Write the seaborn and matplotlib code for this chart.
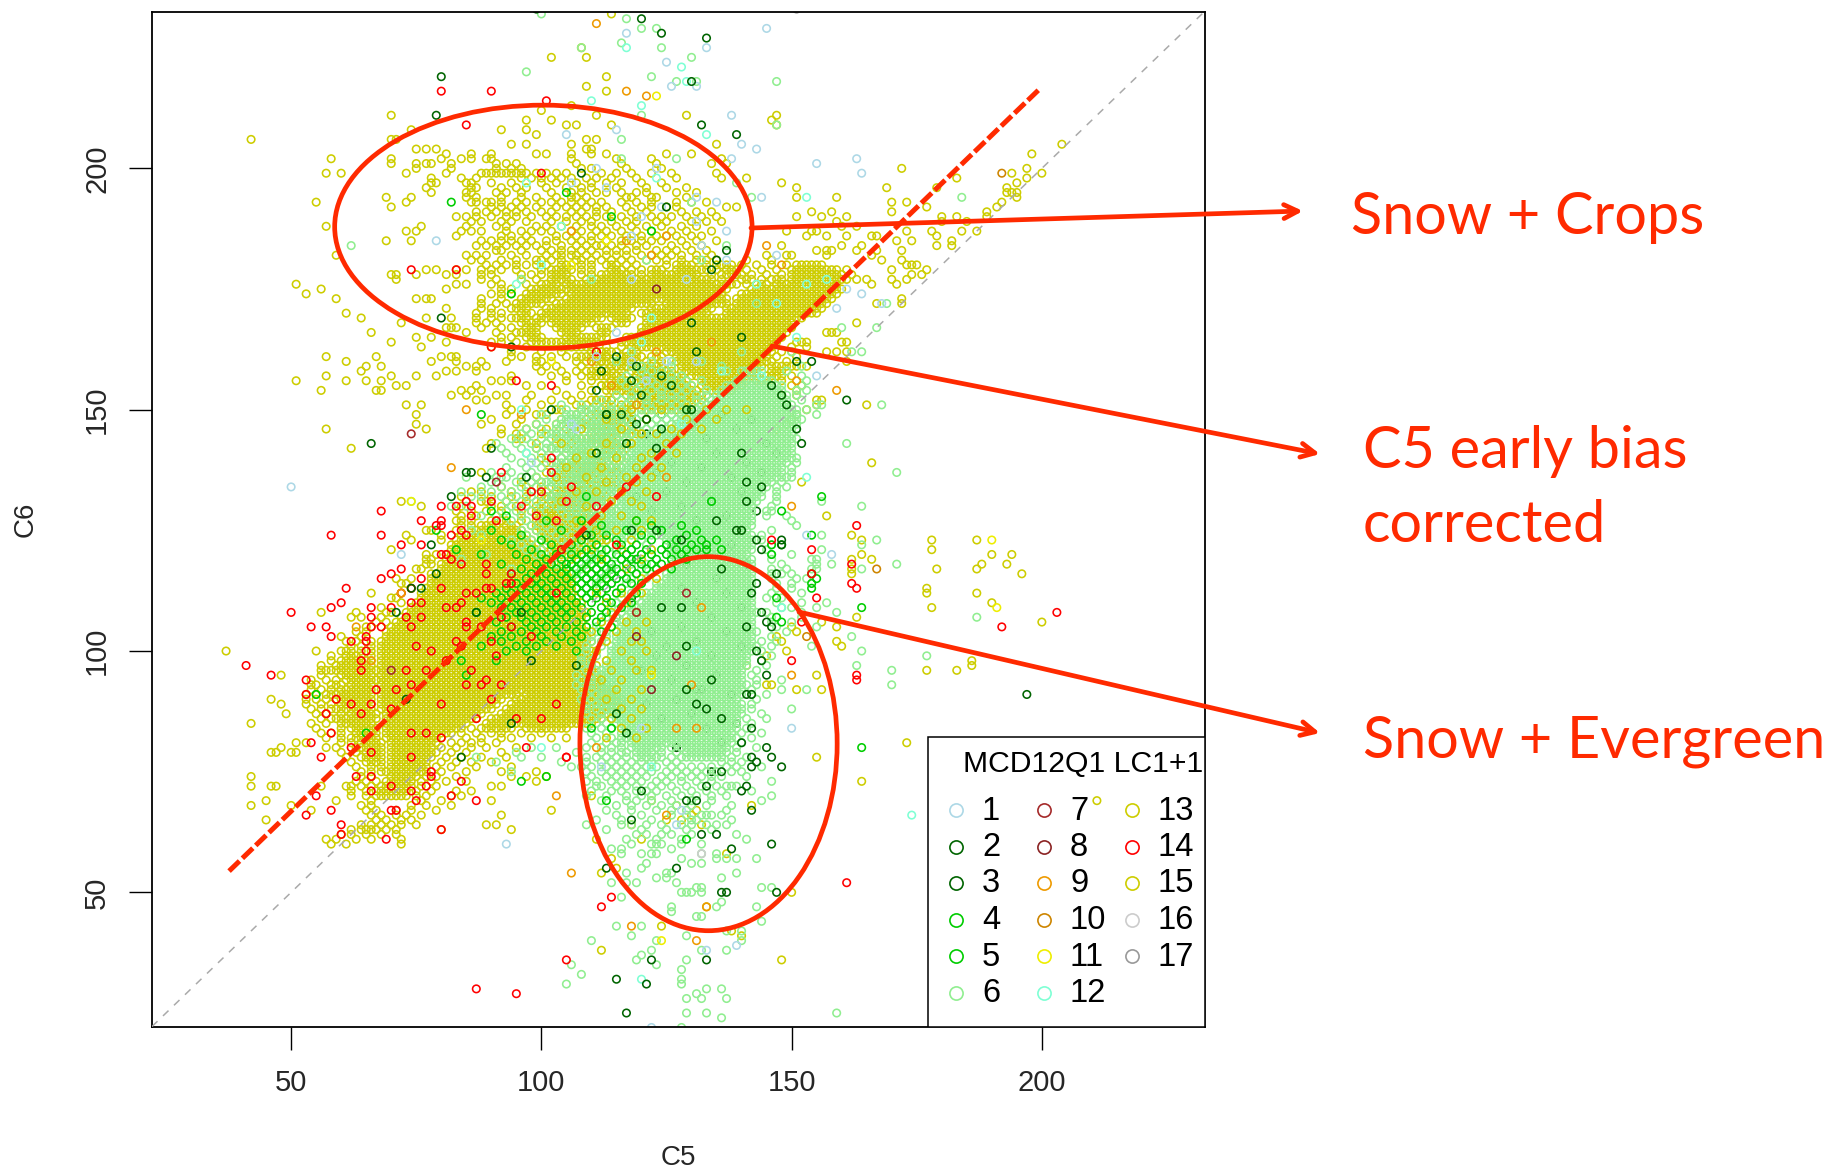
import pandas as pd
import seaborn as sns
from matplotlib import pyplot as plt
from matplotlib.lines import Line2D
from matplotlib.markers import MarkerStyle
from matplotlib.patches import Ellipse, Rectangle

# C5 / C6 values are whole days, so the solid blocks are noted as (c6, first c5, last c5)
lc13_runs = [
    (180, 104, 106), (180, 113, 115), (180, 127, 130), (180, 136, 138), (180, 151, 156),
    (179, 103, 106), (179, 114, 116), (179, 122, 124), (179, 127, 133), (179, 137, 139), (179, 150, 159),
    (178, 102, 105), (178, 112, 118), (178, 122, 131), (178, 136, 140), (178, 150, 160),
    (177, 102, 106), (177, 111, 134), (177, 140, 142), (177, 146, 148), (177, 150, 161),
    (176, 100, 103), (176, 105, 110), (176, 111, 138), (176, 143, 145), (176, 147, 159),
    (175, 98, 137), (175, 142, 160), (174, 97, 104), (174, 106, 136), (174, 140, 159),
    (173, 96, 102), (173, 105, 137), (173, 139, 158), (172, 95, 100), (172, 103, 122), (172, 125, 137), (172, 139, 157),
    (171, 94, 97), (171, 101, 118), (171, 122, 134), (171, 137, 156), (170, 96, 98), (170, 100, 117), (170, 120, 133), (170, 137, 155),
    (169, 95, 97), (169, 99, 112), (169, 114, 118), (169, 121, 152), (168, 96, 100), (168, 102, 110), (168, 115, 117), (168, 121, 150),
    (167, 97, 99), (167, 103, 108), (167, 111, 114), (167, 120, 150), (166, 96, 99), (166, 104, 107), (166, 112, 113), (166, 120, 149),
    (165, 97, 100), (165, 105, 113), (165, 117, 148), (164, 98, 111), (164, 116, 147), (164, 151, 153),
    (163, 104, 110), (163, 118, 146), (162, 110, 114), (162, 125, 146), (161, 108, 113), (161, 116, 120), (161, 122, 124), (161, 127, 145),
    (160, 111, 118), (160, 128, 145), (159, 114, 124), (159, 128, 144), (159, 146, 150), (158, 110, 114), (158, 118, 126), (158, 128, 143), (158, 146, 148),
    (157, 110, 116), (157, 120, 128), (157, 130, 143), (157, 145, 148), (156, 115, 129), (156, 132, 141), (156, 143, 146),
    (155, 112, 118), (155, 121, 130), (155, 132, 140), (154, 114, 131), (154, 134, 138), (153, 118, 133), (152, 110, 114), (152, 120, 132),
    (151, 118, 130), (150, 112, 118), (150, 120, 130), (149, 110, 117), (148, 113, 118), (147, 108, 116), (146, 110, 118), (145, 112, 120),
    (144, 107, 115), (143, 110, 118), (142, 112, 117), (141, 107, 114), (140, 109, 117), (139, 105, 112), (138, 104, 116), (137, 107, 115),
    (136, 103, 109), (135, 105, 115), (134, 102, 114), (133, 103, 110), (132, 100, 113), (131, 102, 112), (130, 101, 108), (129, 98, 110), (128, 99, 112),
    (127, 90, 93), (127, 99, 110), (126, 88, 91), (126, 93, 95), (126, 98, 112), (125, 86, 89), (125, 91, 96), (125, 99, 112),
    (124, 84, 97), (124, 100, 110), (123, 83, 98), (123, 100, 112), (122, 82, 99), (122, 101, 107), (121, 82, 100), (121, 102, 108),
    (120, 81, 101), (120, 103, 108), (119, 81, 102), (118, 80, 104), (117, 80, 105), (116, 79, 106), (115, 78, 106), (114, 78, 106),
    (113, 77, 107), (112, 76, 106), (111, 76, 107), (110, 75, 108), (109, 74, 107), (108, 73, 108), (107, 72, 109), (106, 71, 108),
    (105, 70, 109), (104, 69, 109), (103, 69, 109), (102, 68, 110), (101, 68, 109), (100, 60, 62), (100, 68, 110), (99, 61, 64), (99, 68, 110),
    (98, 60, 66), (98, 68, 110), (97, 59, 66), (97, 68, 111), (96, 58, 66), (96, 67, 110), (95, 60, 66), (95, 68, 112), (94, 61, 67), (94, 68, 112),
    (93, 58, 60), (93, 62, 66), (93, 68, 113), (92, 60, 66), (92, 68, 114), (91, 57, 66), (91, 68, 95), (91, 97, 115), (90, 59, 66), (90, 68, 92), (90, 95, 116),
    (89, 60, 66), (89, 68, 91), (89, 94, 116), (88, 58, 66), (88, 68, 90), (88, 93, 116), (87, 62, 67), (87, 69, 88), (87, 92, 113), (86, 59, 67), (86, 69, 87), (86, 90, 112),
    (85, 60, 66), (85, 69, 85), (85, 89, 110), (84, 62, 67), (84, 69, 83), (84, 88, 94), (84, 98, 105), (83, 63, 67), (83, 69, 82), (82, 62, 67), (82, 69, 80),
    (81, 64, 68), (81, 70, 79), (80, 63, 68), (80, 70, 78), (79, 65, 68), (79, 70, 78), (78, 64, 68), (78, 70, 77), (77, 66, 68), (77, 70, 76), (76, 70, 76), (75, 70, 76), (74, 70, 75), (73, 69, 74), (72, 68, 74),
    (71, 68, 73), (70, 67, 73),
]
lc6_runs = [
    (158, 140, 144), (156, 139, 146), (155, 138, 148), (154, 136, 148), (153, 135, 149), (152, 134, 149), (151, 132, 150), (150, 108, 112), (150, 131, 150),
    (149, 105, 107), (149, 129, 151), (148, 104, 108), (148, 110, 114), (148, 127, 151), (147, 103, 112), (147, 126, 150), (146, 106, 115), (146, 124, 150),
    (145, 101, 107), (145, 110, 117), (145, 122, 150), (144, 104, 112), (144, 120, 150), (143, 107, 116), (143, 119, 149), (142, 101, 110), (142, 118, 149),
    (141, 105, 116), (141, 118, 149), (140, 106, 116), (140, 117, 150), (139, 103, 110), (139, 117, 149), (138, 108, 116), (138, 117, 148), (137, 102, 110), (137, 116, 148),
    (136, 106, 116), (136, 116, 148), (135, 100, 109), (135, 116, 146), (134, 110, 116), (134, 116, 145), (133, 106, 115), (133, 116, 144), (132, 101, 112), (132, 116, 144),
    (131, 108, 115), (131, 116, 143), (130, 103, 112), (130, 116, 142), (129, 112, 116), (129, 117, 142), (128, 105, 116), (128, 117, 142), (127, 110, 118), (127, 119, 142),
    (126, 112, 120), (126, 121, 142), (125, 108, 114), (125, 122, 141), (124, 112, 123), (124, 124, 142), (123, 125, 142), (122, 125, 142), (121, 126, 142), (120, 126, 141), (119, 127, 142), (118, 126, 142),
    (117, 126, 142), (116, 125, 142), (115, 125, 142), (114, 124, 142), (113, 123, 142), (112, 122, 142), (111, 121, 142), (110, 120, 142),
    (109, 118, 142), (108, 118, 143), (107, 117, 142), (106, 116, 142), (105, 116, 142), (104, 115, 142), (103, 115, 142), (102, 115, 142),
    (101, 114, 143), (100, 114, 142), (99, 114, 141), (98, 113, 141), (97, 113, 141), (96, 112, 140), (95, 112, 140), (94, 112, 140),
    (93, 112, 141), (92, 112, 140), (91, 112, 140), (90, 112, 139), (89, 112, 140), (88, 113, 140), (87, 114, 140), (86, 114, 139),
    (85, 115, 139), (84, 116, 139), (83, 116, 138), (82, 117, 125), (82, 128, 138), (81, 118, 124), (81, 127, 137), (80, 118, 123), (80, 128, 136),
    (79, 119, 122), (79, 129, 136), (78, 119, 123), (78, 129, 135),
]

# single rings read one by one: (c6, [c5, ...])
lc13_rows = [
    (232, [114]), (225, [108]), (223, [102, 109]), (219, [113]), (217, [109]), (216, [113]), (213, [106]), (212, [100]),
    (211, [70, 111, 129, 147]), (210, [97, 102, 146]), (209, [105, 107, 114, 147]), (208, [74, 92, 97]), (207, [99]), (206, [42, 70, 71, 109, 111]),
    (205, [94, 97, 106, 135, 204]), (204, [75, 77, 79, 109, 110]), (203, [81, 86, 90, 99, 101, 106, 110, 113, 125, 130, 198]),
    (202, [58, 70, 80, 84, 86, 89, 90, 106, 115, 122, 136]), (201, [70, 75, 77, 78, 82, 91, 93, 95, 107, 116, 123, 134, 137]),
    (200, [75, 82, 91, 94, 96, 108, 110, 117, 124, 172, 197]), (199, [57, 60, 73, 81, 88, 89, 90, 91, 92, 93, 94, 95, 96, 97, 99, 101, 103, 105, 112, 115, 118, 122, 126, 135, 194, 200]),
    (198, [78, 84, 87, 96, 98, 100, 102, 104, 106, 109, 111, 114, 119, 127, 136, 141, 183, 197]),
    (197, [78, 79, 85, 86, 90, 94, 100, 103, 107, 110, 113, 116, 120, 124, 148, 195]),
    (196, [77, 86, 87, 92, 95, 97, 101, 105, 108, 110, 115, 121, 125, 129, 151, 169, 179, 193]),
    (195, [78, 85, 86, 91, 93, 96, 102, 106, 108, 111, 113, 116, 119, 121, 127, 131, 193, 194, 195]),
    (194, [69, 74, 85, 87, 92, 96, 99, 103, 106, 107, 109, 117, 118, 122, 123, 129, 151, 159, 195]),
    (193, [55, 73, 86, 87, 89, 90, 92, 95, 97, 100, 102, 104, 106, 108, 110, 112, 116, 119, 122, 127, 130, 133, 170, 173, 192]),
    (192, [70, 90, 92, 94, 96, 99, 103, 105, 107, 109, 111, 113, 117, 120, 122, 125, 127, 137, 139, 177, 191]),
    (191, [87, 89, 91, 93, 95, 97, 100, 102, 106, 108, 111, 114, 118, 121, 128, 131, 134, 154, 158, 170, 189]),
    (190, [83, 85, 87, 90, 93, 95, 98, 101, 103, 105, 107, 109, 111, 113, 116, 119, 122, 124, 126, 129, 132, 135, 151, 156, 161, 180, 183, 189]),
    (189, [86, 88, 92, 94, 97, 102, 105, 108, 110, 114, 117, 119, 123, 125, 130, 133, 136, 159, 180, 185]),
    (188, [57, 76, 85, 91, 93, 99, 101, 104, 107, 110, 112, 115, 118, 121, 124, 128, 131, 160, 163]),
    (187, [73, 75, 84, 86, 88, 93, 96, 98, 100, 102, 106, 108, 111, 113, 116, 119, 122, 126, 129, 134, 149, 154, 155, 173, 178, 184, 187]),
    (186, [83, 92, 94, 97, 103, 105, 107, 110, 112, 114, 117, 120, 123, 125, 127, 130, 132, 153, 157, 161, 166, 167, 179]),
    (185, [69, 74, 88, 90, 92, 94, 96, 98, 101, 103, 106, 108, 110, 113, 116, 118, 120, 122, 124, 128, 131, 135, 171, 174, 182]),
    (184, [87, 89, 91, 93, 95, 97, 99, 101, 104, 107, 109, 111, 112, 114, 116, 119, 121, 126, 129, 132, 148, 160, 164, 179, 182]),
    (183, [91, 92, 96, 100, 102, 104, 106, 108, 110, 113, 115, 117, 119, 123, 125, 127, 130, 133, 155, 157, 158, 163, 167, 172]),
    (182, [59, 85, 87, 89, 94, 97, 101, 103, 104, 106, 107, 109, 111, 113, 115, 117, 120, 122, 124, 126, 128, 131, 134, 145, 149, 150, 157, 166]),
    (181, [86, 88, 92, 95, 99, 100, 102, 104, 107, 108, 110, 112, 114, 116, 118, 121, 123, 125, 128, 131, 133, 135, 141, 146, 168, 172]),
    (180, [89, 91, 93, 95, 97, 99, 101, 108, 110, 117, 119, 125, 133, 135, 140, 143, 146, 149, 173, 174, 175]),
    (179, [77, 79, 83, 85, 88, 90, 92, 95, 100, 102, 108, 110, 118, 120, 135, 141, 144, 147, 161, 170, 177]),
    (178, [70, 71, 75, 81, 83, 88, 90, 96, 98, 100, 108, 110, 120, 134, 142, 145, 148, 162, 174, 176]),
    (177, [71, 88, 91, 96, 99, 109, 136, 144, 163, 165, 170, 173]), (176, [51, 83, 85, 90, 92, 97, 139, 141, 166, 171]), (175, [56, 81, 92, 94]),
    (174, [53, 90, 92, 94]), (173, [59, 75, 77, 78, 88, 92, 172]), (172, [88, 91, 93, 167, 172]), (171, [81, 88, 90]), (170, [61, 87, 90, 92]),
    (169, [64, 77, 82, 87, 90, 92, 94]), (168, [72, 87, 89, 91, 163]), (167, [81, 82, 83, 88, 92, 94]), (166, [66, 85, 91, 95, 157, 158, 159]),
    (165, [75, 78, 92, 94]), (164, [70, 81, 90, 92, 95, 160, 161]), (163, [76, 90, 94, 97, 113, 116, 150, 153]), (162, [94, 100, 104, 112, 115, 117, 119, 148, 150, 157, 159, 161]),
    (161, [57, 67, 80, 82, 83, 94, 96, 99, 102, 105, 107, 111, 113, 117, 147, 151]), (160, [61, 78, 83, 88, 93, 99, 100, 107, 109, 112, 116, 119, 121, 124, 127, 146, 149, 161]),
    (159, [65, 68, 85, 87, 89, 99, 101, 103, 108, 111, 118, 123, 126, 151, 153]), (158, [64, 81, 83, 87, 100, 104, 107, 109, 113, 116, 121, 125]),
    (157, [57, 70, 75, 79, 94, 102, 105, 108, 113, 119, 122, 126, 146, 150]), (156, [51, 61, 65, 68, 90, 92, 94, 105, 110, 114, 120, 124, 127, 148]),
    (155, [71, 73, 87, 97, 100, 108, 112, 116, 118, 122, 150, 152]), (154, [56, 67, 68, 84, 86, 88, 103, 110, 113, 119, 121, 125, 151]),
    (153, [82, 85, 91, 93, 98, 105, 108, 115, 117, 148, 151]), (152, [87, 89, 97, 102, 106, 111, 114, 118, 155, 156]), (151, [73, 76, 93, 100, 107, 109, 113, 116, 155, 165]),
    (150, [94, 97, 103, 104, 108, 110, 153]), (149, [75, 93, 99, 101, 107, 151]), (148, [90, 96, 104, 109, 150]), (147, [75, 88, 95, 99, 103, 149]),
    (146, [57, 77, 92, 97, 101, 105, 147]), (145, [92, 95, 100, 103, 106, 110]), (144, [95, 96, 103]), (143, [90, 99, 103, 106]),
    (142, [62, 89, 99, 102, 105, 108]), (140, [100, 104, 107]), (139, [101, 103, 166]), (137, [88, 101, 105]), (136, [99, 110, 112]), (135, [96, 100, 152]),
    (134, [92, 97, 100]), (133, [86, 88, 94, 98, 101]), (132, [84, 90, 94, 97]), (131, [72, 88, 89, 93, 97, 100]),
    (130, [76, 84, 90, 92, 95, 99, 110]), (129, [83, 86, 89, 92, 96, 114]), (128, [84, 87, 96, 157]), (127, [83, 84, 86, 96, 112]),
    (126, [84, 86, 114]), (125, [77, 78, 83, 113]), (124, [73, 80, 111, 162]), (123, [74, 80, 113, 164, 187, 178]), (122, [110, 115]),
    (121, [70, 112, 178, 110]), (120, [77, 79, 164, 190, 194]), (119, [77, 78, 162, 166]), (118, [77, 78, 188, 193]), (117, [75, 76, 179, 187, 162]), (116, [78, 196, 162]), (115, [71, 74]),
    (114, [72, 73]), (113, [177, 74]), (112, [66, 177, 187, 72]), (111, [70, 71]), (110, [72, 190]), (109, [178, 68]), (108, [56, 63, 69, 70]), (107, [62, 64, 163, 68]), (106, [200, 156, 67, 69]),
    (105, [150, 159, 65, 66]), (104, [151, 63, 65]), (103, [60, 147, 64]), (102, [148, 159, 61, 63, 66]), (101, [160, 62, 64, 66]), (100, [37, 55, 149, 64, 66]),
    (99, [58, 66, 145]), (98, [58, 186]), (97, [56, 141, 186]), (96, [56, 57, 177, 183]), (95, [48, 56, 155]),
    (94, [54, 57, 59]), (93, [54, 55, 145, 146]), (92, [54, 56, 58, 151, 156]), (91, [53, 55]),
    (90, [46, 53, 55, 57]), (89, [48, 53, 56, 58]), (88, [54, 56]), (87, [49, 55, 57, 60]), (86, [56, 58]),
    (85, [42, 54, 57]), (84, [55, 60, 84, 86, 97]), (83, [56, 58, 60, 84, 87, 90, 92, 96, 100]), (82, [57, 60, 85, 88, 92, 94, 98, 102, 105]),
    (81, [51, 53, 60, 62, 82, 84, 86, 88, 91, 173]), (80, [48, 57, 59, 80, 83, 86, 89, 95]), (79, [46, 47, 50, 51, 60, 63, 79, 82, 85, 92]),
    (78, [61, 78, 81, 84, 88, 155, 93]), (77, [62, 65, 77, 80, 83, 86, 90]), (76, [63, 66, 68, 77, 79, 82, 87, 94]), (75, [64, 66, 68, 69, 77, 80, 85, 92, 99]),
    (74, [42, 64, 66, 77, 79, 83, 94, 97, 101]), (73, [63, 65, 67, 76, 78, 81, 85, 99, 164]), (72, [42, 46, 47, 56, 61, 62, 64, 66, 76, 79, 90, 92]), (71, [62, 65, 67, 75, 78, 83, 86]),
    (70, [62, 65, 75, 77, 82, 84, 110]), (69, [45, 59, 66, 76, 80, 90, 122]), (68, [42, 50, 64, 66, 74, 77, 82, 127, 142]), (67, [54, 65, 67, 71, 74, 79, 102, 131]),
    (66, [66, 68, 71, 73, 76, 92, 130]), (65, [45, 67, 69, 72, 74, 125, 128]), (64, [64, 66, 68, 70, 72, 75, 89, 91, 118, 132]), (63, [62, 64, 65, 66, 67, 69, 71, 80, 94]),
    (62, [60, 62, 65, 68, 71]), (61, [57, 59, 63, 66, 72, 111, 120]), (60, [58, 61, 72]), (58, [137]), (57, [114]), (55, [115]), (54, [112]), (50, [150]), (47, [133]), (43, [124]), (42, [138]),
    (41, [140]), (38, [112]), (36, [148]),
]
# class 15 shares the colour of 13 and lies over the light green where the two clouds meet
lc15_rows = [
    (150, [133, 137, 141, 118, 124]), (148, [121, 129, 135, 113]), (146, [116, 126, 132, 108]), (145, [120, 123, 128]), (143, [113, 118, 125, 104]), (141, [110, 122, 127]),
    (140, [107, 115, 120]), (138, [112, 119, 124, 105]), (136, [103, 109, 117, 122]), (135, [113, 119]), (133, [107, 111, 116, 121]), (131, [104, 114, 118]), (130, [109, 120]),
    (128, [102, 112, 116]), (127, [107, 119, 122]), (125, [111, 115, 120]), (123, [108, 113, 118]), (121, [103, 110, 116, 122]), (119, [106, 112, 120]), (117, [109, 117]),
    (115, [113, 120, 123]), (112, [111, 116, 120]), (110, [113, 117]), (108, [109, 114, 119]), (106, [112, 117, 121]), (104, [110, 115, 119]), (102, [113, 118, 120]), (100, [111, 116, 121]),
    (98, [113, 118]), (96, [114, 119, 122]), (94, [112, 116]), (92, [115, 120]), (90, [113, 118]), (88, [116, 120]), (86, [114, 118]), (84, [116, 121]), (82, [113, 119]),
]
lc6_rows = [
    (232, [100]), (231, [117]), (229, [120, 123]), (226, [116]), (225, [108, 124]), (223, [130]), (220, [97]), (219, [122]), (218, [127, 147, 131]), (211, [120]), (209, [147]),
    (206, [116]), (202, [116, 127]), (197, [139]), (194, [184, 142]), (193, [130]), (184, [62, 137]), (181, [121, 132]), (177, [96, 110]), (172, [169, 143]), (167, [160, 167]),
    (162, [162, 164, 118, 140, 150]), (160, [115, 122, 126, 132]), (159, [118, 120, 126, 136, 152]), (158, [120, 122, 124, 137, 149]), (157, [117, 121, 124, 126, 128, 152]),
    (156, [116, 119, 122, 126, 129, 132, 153]), (155, [117, 120, 123, 125, 128, 130, 137, 152]), (154, [119, 122, 124, 127, 129, 133, 151, 153]),
    (153, [115, 118, 121, 124, 126, 128, 131, 133, 151]), (152, [112, 116, 118, 121, 124, 126, 128, 131, 152]), (151, [104, 108, 111, 114, 117, 119, 121, 123, 125, 127, 129, 155, 156, 168]),
    (150, [102, 105, 114, 116, 118, 120, 122, 124, 126, 128, 130, 151, 153]), (149, [100, 108, 110, 112, 114, 116, 118, 120, 122, 124, 126, 128, 155, 151]),
    (148, [101, 116, 117, 119, 121, 123, 125, 150, 152]), (147, [99, 114, 116, 118, 120, 122, 124, 149, 151]),
    (146, [97, 100, 103, 117, 119, 121, 123, 151]), (145, [96, 98, 118, 120]),
    (144, [94, 97, 100, 102, 113, 115, 117, 119, 151]), (143, [91, 95, 98, 101, 103, 105, 117, 150, 161]),
    (142, [92, 96, 99, 112, 114, 116, 150]), (141, [93, 97, 100, 103, 150]), (140, [94, 98, 101, 104, 151]),
    (139, [96, 99, 102, 111, 113, 115, 151]), (138, [93, 97, 100, 103, 106, 150]), (137, [90, 94, 98, 112, 114, 171, 150]),
    (136, [85, 91, 92, 93, 96, 99, 102, 149, 150]), (135, [90, 95, 98, 111, 113, 148]), (134, [88, 92, 96, 99, 102, 105, 108, 147, 149]),
    (133, [84, 90, 94, 97, 100, 103, 147]), (132, [86, 88, 92, 95, 98, 114, 147]), (131, [74, 90, 93, 96, 99, 102, 105, 156, 147]),
    (130, [82, 85, 94, 97, 100, 114, 164, 146]), (129, [93, 95, 98, 101, 104, 107, 110, 146, 145]), (128, [88, 91, 96, 99, 102, 149, 145]),
    (127, [94, 97, 100, 103, 106, 150]), (126, [98, 101, 104, 107, 110, 151]), (125, [86, 96, 99, 102, 105, 116, 119, 146]),
    (124, [88, 97, 100, 103, 106, 109, 156, 144]), (123, [94, 98, 101, 104, 107, 110, 113, 116, 120, 167, 144]), (122, [96, 99, 102, 105, 108, 111, 114, 117, 121, 164, 146]),
    (121, [97, 100, 103, 106, 109, 112, 115, 118, 122, 156, 145]), (120, [89, 99, 102, 105, 108, 111, 114, 117, 120, 150, 146]), (119, [84, 101, 104, 107, 110, 113, 116, 119, 154, 155, 146]),
    (118, [103, 106, 109, 112, 115, 118, 121, 158, 171, 155, 148]), (117, [94, 105, 108, 111, 114, 117, 120, 123, 149, 154, 155, 164, 146]), (116, [107, 110, 113, 116, 119, 122, 148, 150, 146]),
    (115, [109, 112, 115, 118, 121, 151, 153, 146]), (114, [111, 114, 117, 120, 123, 150, 147]), (113, [113, 116, 119, 150, 147]), (112, [115, 118, 121, 146, 152]), (111, [116, 119, 145, 148]),
    (110, [157, 152, 147, 115, 118]), (109, [155, 150, 148, 114, 117]), (108, [159, 152, 145, 114, 116]), (107, [187, 152, 146, 113, 115]), (106, [150, 146, 112, 115]), (105, [155, 147, 111, 114]),
    (104, [149, 143, 111, 113]), (103, [162, 146, 110, 113]), (102, [147, 144, 110, 112]), (101, [154, 146, 109, 112]), (100, [164, 144, 109, 111]), (99, [177, 146, 108, 111]), (98, [144, 108, 110]),
    (97, [163, 145, 108, 110]), (96, [170, 143, 109, 111]), (95, [142, 107, 110]), (94, [148, 143, 108, 110]), (93, [170, 143, 107, 110]), (92, [153, 148, 142, 108, 110]), (91, [145, 142, 109, 111]),
    (90, [143, 108, 110]), (89, [142, 109, 111]), (88, [150, 142, 109, 111]), (87, [144, 109, 112]), (86, [141, 145, 110, 112]), (85, [142, 111, 113]), (84, [141, 109, 112, 114]), (83, [144, 140, 110, 113]),
    (82, [142, 111, 114, 116, 126, 127, 139]), (81, [110, 113, 115, 116, 125, 126, 138, 140]), (80, [98, 103, 109, 112, 114, 116, 124, 126, 137, 139, 143]), (79, [95, 107, 112, 114, 116, 117, 124, 127, 137, 139]),
    (78, [87, 96, 100, 109, 111, 113, 115, 117, 124, 126, 128, 136, 138, 141]), (77, [91, 104, 109, 112, 114, 116, 118, 120, 122, 125, 127, 136, 138, 140]),
    (76, [106, 108, 110, 113, 115, 117, 119, 121, 123, 126, 128, 130, 132, 134, 137, 139, 144]), (75, [94, 109, 112, 114, 116, 118, 120, 122, 125, 127, 129, 131, 133, 135, 138, 140]),
    (74, [110, 113, 115, 117, 119, 121, 124, 126, 128, 130, 132, 134, 136, 141]), (73, [109, 111, 114, 116, 118, 120, 123, 125, 128, 131, 134, 146]),
    (72, [111, 112, 115, 117, 119, 122, 124, 126, 129, 132, 135, 137, 138, 139]), (71, [110, 114, 116, 119, 121, 123, 127, 130, 133, 136, 142]),
    (70, [109, 113, 117, 120, 122, 125, 128, 131, 134, 137, 146]), (69, [112, 117, 119, 122, 126, 130, 134, 144]), (68, [115, 118, 121, 124, 127, 130, 133, 138]),
    (67, [113, 118, 123, 126, 129, 137]), (66, [115, 120, 126, 129, 132, 133, 134, 136]), (65, [111, 116, 122, 130, 131, 138]), (64, [109, 116, 118, 121, 124, 128, 130, 133, 135, 137]),
    (63, [113, 120, 125, 129, 134]), (62, [119, 121, 124, 126, 130, 139]), (61, [117, 123, 128, 141]), (60, [118, 122, 123, 124, 128, 132]), (59, [114, 116, 126]), (58, [116, 120, 122, 123, 132, 135]),
    (57, [128, 135, 137, 139, 143]), (56, [121, 130, 132]), (55, [120]), (54, [117, 125, 126, 139]), (53, [123, 125, 136]), (52, [114, 117, 119, 127]), (51, [131, 132, 144, 146]), (50, [128, 129, 130, 132]),
    (49, [116]), (48, [136]), (47, [126, 135, 143]), (46, [126]), (45, [131, 132]), (44, [144]), (43, [115, 120]), (42, [137, 140]), (41, [118, 129]), (40, [110, 123, 140]), (38, [122, 132, 137]),
    (37, [120]), (36, [119, 129]), (35, [106, 123]), (34, [128]), (33, [108]), (32, [128]), (31, [105, 128]), (30, [133, 136]), (29, [131]), (28, [129, 132, 137]), (25, [129, 133, 159]), (24, [136]), (22, [128]),
]
lc4_rows = [
    (132, [109, 156]), (131, [134]), (129, [90, 148]), (128, [93]), (127, [101, 108, 119]), (126, [112, 122, 128]), (125, [79, 90, 104, 117, 124, 131]), (124, [96, 110, 113, 120, 129, 154]),
    (123, [92, 100, 108, 115, 122, 127, 132, 135]), (122, [94, 102, 106, 111, 116, 119, 125, 130, 133, 146, 148]), (121, [83, 98, 104, 109, 113, 118, 121, 124, 127, 129, 131, 133, 136]),
    (120, [88, 95, 100, 103, 106, 108, 110, 112, 115, 117, 120, 122, 125, 128, 146]), (119, [97, 101, 104, 107, 109, 111, 113, 116, 118, 119, 123, 126, 129]), (118, [92, 99, 102, 105, 106, 108, 110, 112, 114, 117, 120, 122, 124]),
    (117, [96, 100, 103, 105, 107, 109, 111, 113, 115, 118, 121, 123, 126]), (116, [94, 98, 101, 104, 106, 108, 110, 112, 114, 116, 119, 154]), (115, [97, 99, 102, 105, 107, 109, 111, 113, 115, 117, 155]),
    (114, [95, 98, 100, 103, 106, 108, 110, 112, 114, 118, 120, 154]), (113, [93, 96, 99, 101, 104, 107, 109, 111, 113, 116, 154]), (112, [91, 94, 97, 100, 102, 105, 108, 110, 112, 115, 119]),
    (111, [88, 92, 95, 98, 101, 103, 106, 109, 111, 113, 147]), (110, [90, 93, 96, 99, 102, 104, 107, 110, 114, 118]), (109, [92, 94, 97, 100, 103, 105, 108, 112, 116, 164]), (108, [87, 95, 98, 101, 104, 106, 110, 113]),
    (107, [93, 96, 99, 102, 105, 109, 112, 147]), (106, [91, 97, 100, 103, 107, 111, 148]), (105, [94, 98, 101, 105, 109, 114]), (104, [92, 96, 99, 103, 107, 112]), (103, [90, 94, 100, 104, 108]), (102, [92, 97, 101, 106]),
    (101, [88, 95, 99, 103]), (100, [93, 97, 107]), (98, [84, 91]), (95, [85]), (91, [55]), (84, [110, 114]), (83, [65]), (80, [164]), (74, [101]), (73, [96]), (69, [113]), (61, [129]), (149, [88]),
    (193, [82]), (195, [105]), (190, [114]), (187, [122]), (174, [94]),
]
lc14_points = [
    (41, 97), (46, 95), (53, 94), (53, 91), (50, 108), (58, 124), (68, 129), (68, 124), (61, 113), (60, 110), (58, 109), (54, 105), (57, 105), (58, 103), (62, 102), (65, 103), (65, 102), (65, 100),
    (64, 98), (64, 96), (68, 115), (70, 116), (72, 117), (72, 122), (76, 122), (76, 127), (80, 130), (80, 127), (80, 126), (79, 126), (82, 124), (84, 125), (85, 124), (85, 131), (83, 130), (86, 130),
    (86, 128), (90, 131), (91, 127), (92, 137), (102, 137), (102, 140), (98, 133), (100, 133), (96, 130), (99, 128), (103, 127), (106, 134), (105, 131), (111, 130), (117, 134), (123, 132), (54, 81), (58, 83),
    (57, 87), (59, 90), (62, 89), (64, 87), (56, 78), (62, 80), (66, 79), (55, 70), (53, 66), (58, 67), (60, 64), (60, 62), (63, 74), (66, 74), (66, 71), (70, 72), (74, 71), (75, 69), (77, 72), (78, 74),
    (74, 78), (70, 67), (71, 67), (69, 61), (80, 63), (87, 69), (84, 73), (97, 80), (105, 78), (100, 86), (103, 89), (87, 86), (90, 90), (66, 109), (66, 107), (66, 105), (68, 105), (70, 109), (73, 107),
    (74, 105), (76, 107), (76, 110), (74, 110), (74, 113), (76, 115), (80, 113), (80, 120), (81, 120), (82, 119), (84, 118), (89, 118), (89, 116), (94, 116), (93, 114), (94, 114), (89, 113), (90, 113),
    (87, 112), (85, 112), (84, 110), (81, 109), (83, 109), (85, 106), (85, 105), (92, 107), (88, 105), (83, 102), (84, 101), (90, 102), (78, 100), (75, 101), (81, 98), (91, 99), (77, 96), (86, 96), (85, 93),
    (88, 93), (89, 94), (92, 93), (67, 92), (66, 89), (73, 96), (74, 93), (80, 89), (77, 83), (74, 83), (80, 82), (103, 112), (104, 121), (115, 122), (163, 126), (146, 123), (154, 121), (154, 116), (162, 118),
    (162, 114), (163, 113), (155, 111), (152, 106), (192, 105), (203, 108), (150, 98), (163, 95), (163, 94), (105, 78), (161, 52), (114, 49), (112, 47), (80, 216), (90, 216), (101, 214), (85, 209),
    (100, 199), (74, 179), (83, 179), (90, 163), (111, 162), (102, 155), (95, 156), (87, 30), (95, 29), (105, 36), (72, 112), (94, 105), (98, 103), (71, 92),
    (70, 88), (95, 86), (78, 75), (82, 70),
]
lc2_points = [
    (66, 143), (85, 137), (86, 137), (90, 142), (82, 132), (78, 122), (89, 136), (97, 136), (102, 150), (113, 149), (116, 149), (111, 141), (117, 143), (119, 147), (121, 148), (124, 146), (123, 142), (129, 150),
    (130, 150), (109, 124), (118, 125), (123, 125), (135, 127), (128, 123), (79, 116), (74, 113), (76, 113), (71, 108), (96, 108), (87, 108), (73, 90), (98, 98), (107, 97), (94, 85), (84, 78), (120, 71), (118, 65),
    (133, 72), (129, 69), (131, 69), (132, 62), (135, 62), (129, 101), (124, 109), (128, 109), (129, 92), (131, 89), (133, 88), (117, 83), (115, 87), (112, 158), (118, 156), (124, 157), (126, 155), (146, 155),
    (148, 153), (149, 151), (161, 152), (111, 154), (120, 153), (113, 149), (141, 135), (144, 134), (152, 143), (151, 146), (140, 141), (139, 125), (140, 125), (141, 131), (143, 123),
    (144, 121), (148, 123), (148, 122), (147, 116), (136, 117), (143, 114), (142, 112), (144, 108), (145, 106), (146, 105), (141, 105), (143, 100), (144, 98), (145, 95), (142, 91), (141, 91), (134, 94), (136, 86),
    (140, 81), (145, 80), (146, 78), (142, 78), (143, 77), (142, 76), (148, 76), (136, 75), (141, 72), (140, 71), (197, 91), (142, 84), (142, 67), (146, 60), (138, 59), (127, 55), (113, 55), (136, 50), (137, 50),
    (147, 50), (122, 36), (133, 36), (115, 32), (121, 31), (117, 25), (80, 219), (79, 211), (120, 231), (124, 228), (133, 227), (130, 218), (132, 209), (108, 199), (125, 192), (80, 169), (130, 168), (94, 163),
    (115, 161), (119, 159), (131, 162), (99, 233), (139, 207), (137, 183), (135, 181), (134, 179), (140, 165), (151, 160), (154, 160),
]
lc3_points = [
    (118, 148), (121, 145), (124, 149), (127, 144), (130, 147), (133, 144), (136, 149), (139, 146), (142, 148), (145, 143), (120, 140), (123, 137), (126, 139), (129, 135), (132, 138), (135, 141), (138, 136), (141, 139),
    (144, 137), (147, 141), (119, 132), (122, 129), (125, 133), (128, 130), (131, 127), (134, 131), (137, 128), (140, 133), (143, 129), (126, 122), (129, 118), (132, 120), (135, 115), (138, 122), (141, 118),
    (128, 113), (131, 110), (134, 107), (137, 112), (140, 109), (122, 104), (125, 101), (128, 105), (131, 102), (134, 99), (137, 104), (140, 101), (120, 96), (123, 99), (126, 94), (129, 97), (132, 92), (135, 95),
    (138, 91), (121, 89), (124, 86), (127, 90), (130, 87), (133, 84), (136, 81), (139, 85), (131, 92), (127, 80), (134, 75), (115, 107), (118, 111), (111, 113), (114, 117), (108, 120),
]
lc9_points = [
    (111, 230), (117, 216), (121, 215), (114, 155), (123, 162), (125, 186), (117, 185), (106, 187), (122, 182), (110, 160), (145, 184), (148, 180), (134, 164), (151, 156), (159, 154), (85, 150), (96, 149),
    (82, 138), (72, 112), (63, 105), (66, 98), (103, 70), (111, 80), (125, 136), (125, 66), (127, 84), (131, 84), (130, 93), (119, 151), (150, 130), (150, 95), (132, 109), (133, 47), (106, 54), (131, 40), (118, 43),
]
lc10_points = [(192, 199), (167, 117), (153, 103)]
lc7_points = [(74, 145), (91, 135), (70, 96), (119, 108), (129, 112)]
lc8_points = [(119, 103), (122, 92), (127, 99), (123, 175)]
lc11_points = [(123, 215), (106, 180), (102, 160), (74, 131), (122, 95), (190, 123), (191, 109), (124, 40), (113, 185), (88, 123)]
lc12_points = [
    (117, 225), (128, 221), (129, 218), (110, 214), (120, 213), (133, 207), (123, 198), (97, 197), (104, 188), (100, 180), (95, 176), (120, 164), (122, 169), (153, 194), (143, 176), (153, 176), (157, 177),
    (147, 172), (151, 165), (136, 158), (144, 157), (96, 150), (97, 141), (100, 80), (131, 100), (122, 76), (153, 136), (148, 109), (128, 147), (174, 66), (120, 32),
]
lc1_points = [
    (145, 229), (138, 211), (140, 205), (143, 204), (138, 202), (155, 201), (163, 202), (164, 199), (133, 225), (144, 194), (135, 193), (137, 187), (137, 181), (147, 182), (168, 172), (159, 171), (161, 175),
    (164, 174), (155, 157), (117, 228), (125, 222), (126, 217), (131, 217), (115, 208), (105, 207), (111, 200), (106, 197), (113, 196), (123, 200), (124, 192), (131, 194), (131, 189), (120, 190), (118, 186),
    (132, 184), (79, 185), (118, 177), (129, 177), (115, 166), (111, 161), (125, 160), (121, 156), (118, 160), (131, 160), (50, 134), (72, 120), (98, 139), (106, 147), (107, 146), (93, 60), (127, 64),
    (112, 76), (120, 84), (158, 120), (150, 84), (153, 124), (133, 38), (139, 39), (122, 22), (128, 67),
]
lc16_points = [(132, 58)]
lc17_points = [(151, 233)]
on_legend_points = [(211, 69)]

legend_title = "MCD12Q1 LC1+1"
legend_labels = ["1", "2", "3", "4", "5", "6", "7", "8", "9", "10", "11", "12", "13", "14", "15", "16", "17"]
legend_colors = ["#add8e6", "#006400", "#006400", "#00cd00", "#00cd00", "#90ee90", "#a52a2a", "#8b2323", "#ee9a00", "#cd8500",
                 "#eeee00", "#7fffd4", "#cdcd00", "#ff0000", "#cdcd00", "#cccccc", "#999999"]
x_ticks = [50, 100, 150, 200]
y_ticks = [50, 100, 150, 200]
fit_c5 = [37.6, 199.3]
fit_c6 = [54.4, 216.2]
RED = "#ff2a00"
W, H = 1834, 1170


def points_frame(runs=(), rows=(), points=()):
    """Turns the noted blocks, rows and single rings into one table."""
    pairs = []
    for c6, first, last in runs:
        pairs += [(c5, c6) for c5 in range(first, last + 1)]
    for c6, c5_values in rows:
        pairs += [(c5, c6) for c5 in c5_values]
    pairs += list(points)
    return pd.DataFrame(pairs, columns=["C5", "C6"])


def fig_xy(px, py):
    """Figure fraction of a position given in picture pixels."""
    return px / W, 1 - py / H


sns.set_style("white")
plt.rcParams["font.family"] = ["Liberation Sans", "DejaVu Sans"]

fig = plt.figure(figsize=(W / 100, H / 100), dpi=100)
ax = fig.add_axes([152 / W, 1 - 1027 / H, 1053 / W, 1015 / H])

ring = MarkerStyle("o", fillstyle="none")
# draw order: the dark class 3 sits under the light green, the sparse classes on top
frames = [
    (points_frame(points=lc3_points), legend_colors[2]),
    (points_frame(runs=lc13_runs, rows=lc13_rows), legend_colors[12]),
    (points_frame(runs=lc6_runs, rows=lc6_rows), legend_colors[5]),
    (points_frame(rows=lc15_rows), legend_colors[14]),
    (points_frame(rows=lc4_rows), legend_colors[3]),
    (points_frame(points=lc14_points), legend_colors[13]),
    (points_frame(points=lc9_points), legend_colors[8]),
    (points_frame(points=lc10_points), legend_colors[9]),
    (points_frame(points=lc7_points), legend_colors[6]),
    (points_frame(points=lc8_points), legend_colors[7]),
    (points_frame(points=lc11_points), legend_colors[10]),
    (points_frame(points=lc12_points), legend_colors[11]),
    (points_frame(points=lc1_points), legend_colors[0]),
    (points_frame(points=lc16_points), legend_colors[15]),
    (points_frame(points=lc17_points), legend_colors[16]),
    (points_frame(points=lc2_points), legend_colors[1]),
]
for frame, color in frames:
    sns.scatterplot(data=frame, x="C5", y="C6", marker=ring, color=color, s=29, linewidth=1.15, ax=ax, legend=False)

ax.set_xlim(22.2, 232.6)
ax.set_ylim(22.1, 232.4)
ax.axline((50, 50), slope=1, color="#aaaaaa", lw=1.1, dashes=(5, 5), zorder=3)

ax.set_xticks(x_ticks)
ax.set_yticks(y_ticks)
ax.tick_params(axis="both", length=16.5, width=1.0, color="black", labelsize=21, bottom=True, left=True)
ax.tick_params(axis="x", pad=14)
ax.tick_params(axis="y", pad=13)
plt.setp(ax.get_yticklabels(), rotation=90, va="center")
ax.set_xlabel("C5", fontsize=20, labelpad=34)
ax.set_ylabel("C6", fontsize=20, labelpad=32)
for spine in ax.spines.values():
    spine.set_color("black")
    spine.set_linewidth(1.3)

# legend box with equal column widths, as the original has
ax.add_patch(Rectangle(fig_xy(928, 1027), 277 / W, 290 / H, transform=fig.transFigure, fc="white", ec="black", lw=1.1, zorder=5))
ax.text(*fig_xy(1083, 764), legend_title, transform=fig.transFigure, fontsize=21.7, ha="center", va="center", color="black", zorder=6)
for i, (label, color) in enumerate(zip(legend_labels, legend_colors)):
    col, row = (i // 6, i % 6)
    row_y = 810 + row * 36.5
    ax.plot(*[[v] for v in fig_xy(956 + col * 88, row_y)], transform=fig.transFigure, ls="", marker="o", mfc="none", mec=color, mew=1.2, ms=9.5, zorder=6)
    ax.text(*fig_xy(982 + col * 88, row_y + 1), label, transform=fig.transFigure, fontsize=23.5, ha="left", va="center", color="black", zorder=6)
# one ring lies over the legend box
sns.scatterplot(data=points_frame(points=on_legend_points), x="C5", y="C6", marker=ring, color=legend_colors[12],
                s=29, linewidth=1.15, ax=ax, legend=False, zorder=7)

ax.plot(fit_c5, fit_c6, color=RED, lw=3.6, dashes=(2.9, 0.8), zorder=7)
ax.add_patch(Ellipse((100.4, 187.9), 83.4, 50.4, fill=False, edgecolor=RED, lw=3.4, zorder=7))
ax.add_patch(Ellipse((133.4, 80.8), 51.4, 77.5, fill=False, edgecolor=RED, lw=3.4, zorder=7))

# the call-outs sit partly outside the plot box, so they use figure pixels
arrows = [((751, 228), (1303, 211)), ((772, 346), (1320, 454)), ((799, 612), (1320, 733))]
for start, end in arrows:
    ax.annotate("", xy=fig_xy(*end), xytext=fig_xy(*start), xycoords="figure fraction",
                textcoords="figure fraction", annotation_clip=False, zorder=8,
                arrowprops=dict(arrowstyle="->,head_length=1.0,head_width=0.5", color=RED, lw=3.4, shrinkA=0, shrinkB=0))
callouts = [("Snow + Crops", 1351, 218), ("C5 early bias", 1363, 452), ("corrected", 1363, 525), ("Snow + Evergreen", 1363, 742)]
for label, px, py in callouts:
    fig.text(*fig_xy(px, py), label, color=RED, fontsize=41.5, family="Lato", va="center", ha="left")

fig.savefig("out.png", dpi=100)
